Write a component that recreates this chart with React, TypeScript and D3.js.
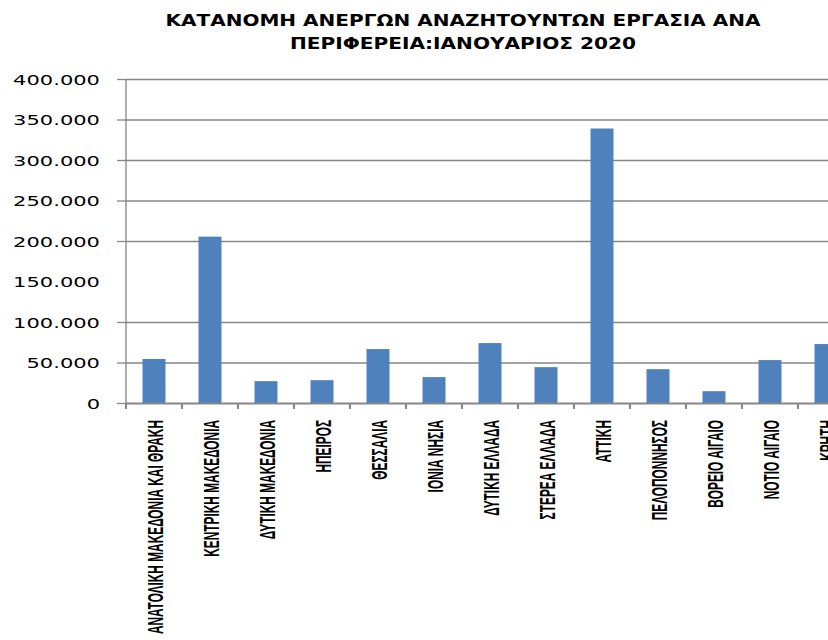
import React from "react";
import * as d3 from "d3";

const categories: string[] = [
  "ΑΝΑΤΟΛΙΚΗ ΜΑΚΕΔΟΝΙΑ ΚΑΙ ΘΡΑΚΗ",
  "ΚΕΝΤΡΙΚΗ ΜΑΚΕΔΟΝΙΑ",
  "ΔΥΤΙΚΗ ΜΑΚΕΔΟΝΙΑ",
  "ΗΠΕΙΡΟΣ",
  "ΘΕΣΣΑΛΙΑ",
  "ΙΟΝΙΑ ΝΗΣΙΑ",
  "ΔΥΤΙΚΗ ΕΛΛΑΔΑ",
  "ΣΤΕΡΕΑ ΕΛΛΑΔΑ",
  "ΑΤΤΙΚΗ",
  "ΠΕΛΟΠΟΝΝΗΣΟΣ",
  "ΒΟΡΕΙΟ ΑΙΓΑΙΟ",
  "ΝΟΤΙΟ ΑΙΓΑΙΟ",
  "ΚΡΗΤΗ",
];

const unemployed: number[] = [
  55000, 206000, 27600, 28800, 67200, 32600, 74600, 44900, 339500, 42400,
  15200, 53600, 73400,
];

const yTicks: number[] = [0, 50000, 100000, 150000, 200000, 250000, 300000, 350000, 400000];
const yTickLabels: string[] = ["0", "50.000", "100.000", "150.000", "200.000", "250.000", "300.000", "350.000", "400.000"];
const gridValues: number[] = [50000, 100000, 200000, 250000, 300000, 350000, 400000];

const titleLines: string[] = [
  "ΚΑΤΑΝΟΜΗ ΑΝΕΡΓΩΝ ΑΝΑΖΗΤΟΥΝΤΩΝ ΕΡΓΑΣΙΑ ΑΝΑ",
  "ΠΕΡΙΦΕΡΕΙΑ:ΙΑΝΟΥΑΡΙΟΣ 2020",
];

const W = 828;
const H = 640;
const plotLeft = 126;
const step = 56;
const plotTop = 79.5;
const plotBottom = 403.5;

export default function App() {
  const x = d3
    .scaleBand<string>()
    .domain(categories)
    .range([plotLeft, plotLeft + step * categories.length])
    .paddingInner(0.59)
    .paddingOuter(0.295);
  const y = d3.scaleLinear().domain([0, 400000]).range([plotBottom, plotTop]);
  const grid = "#868686";

  const boundaries = d3.range(categories.length + 1).map((i) => plotLeft + step * i);

  return (
    <svg
      width={W}
      height={H}
      style={{ position: "absolute", left: 0, top: 0, display: "block", background: "#fff" }}
    >
      <rect x={0} y={0} width={W} height={H} fill="#fff" />
      {/* title */}
      <text
        x={463}
        y={26}
        textAnchor="middle"
        fontFamily="DejaVu Sans, Verdana, sans-serif"
        fontWeight="bold"
        fontSize={15}
        textLength={595}
        lengthAdjust="spacingAndGlyphs"
        fill="#000"
      >
        {titleLines[0]}
      </text>
      <text
        x={463}
        y={49}
        textAnchor="middle"
        fontFamily="DejaVu Sans, Verdana, sans-serif"
        fontWeight="bold"
        fontSize={15}
        textLength={346}
        lengthAdjust="spacingAndGlyphs"
        fill="#000"
      >
        {titleLines[1]}
      </text>

      {/* gridlines */}
      {gridValues.map((v) => (
        <line key={"g" + v} x1={plotLeft} x2={W} y1={y(v)} y2={y(v)} stroke={grid} strokeWidth={1.3} />
      ))}

      {/* bars */}
      {categories.map((c, i) => (
        <rect
          key={c}
          x={x(c)!}
          y={y(unemployed[i])}
          width={x.bandwidth()}
          height={plotBottom - y(unemployed[i])}
          fill="#4F81BD"
        />
      ))}

      {/* y axis */}
      <line x1={plotLeft} x2={plotLeft} y1={plotTop} y2={plotBottom} stroke={grid} strokeWidth={1.3} />
      {yTicks.map((v) =>
        gridValues.includes(v) || v === 0 ? (
          <line key={"t" + v} x1={117} x2={plotLeft} y1={y(v)} y2={y(v)} stroke={grid} strokeWidth={1.3} />
        ) : null
      )}
      {yTicks.map((v, i) => (
        <text
          key={"yl" + v}
          transform={`translate(100,${y(v)}) scale(1.45,1)`}
          dy="0.36em"
          textAnchor="end"
          fontFamily="DejaVu Sans, Verdana, sans-serif"
          fontSize={14.5}
          fill="#000"
        >
          {yTickLabels[i]}
        </text>
      ))}

      {/* x axis */}
      <line x1={plotLeft} x2={W} y1={plotBottom} y2={plotBottom} stroke={grid} strokeWidth={2} />
      {boundaries.map((b, i) => (
        <line key={"xt" + i} x1={b} x2={b} y1={plotBottom} y2={409} stroke={grid} strokeWidth={2} />
      ))}
      {categories.map((c) => {
        const cx = x(c)! + x.bandwidth() / 2 + 1;
        return (
          <text
            key={"xl" + c}
            transform={`translate(${cx},420) rotate(-90) scale(0.54,1)`}
            dy="0.36em"
            textAnchor="end"
            fontFamily="Liberation Sans, Arial, sans-serif"
            fontWeight="bold"
            fontSize={22}
            fill="#000"
          >
            {c}
          </text>
        );
      })}
    </svg>
  );
}
